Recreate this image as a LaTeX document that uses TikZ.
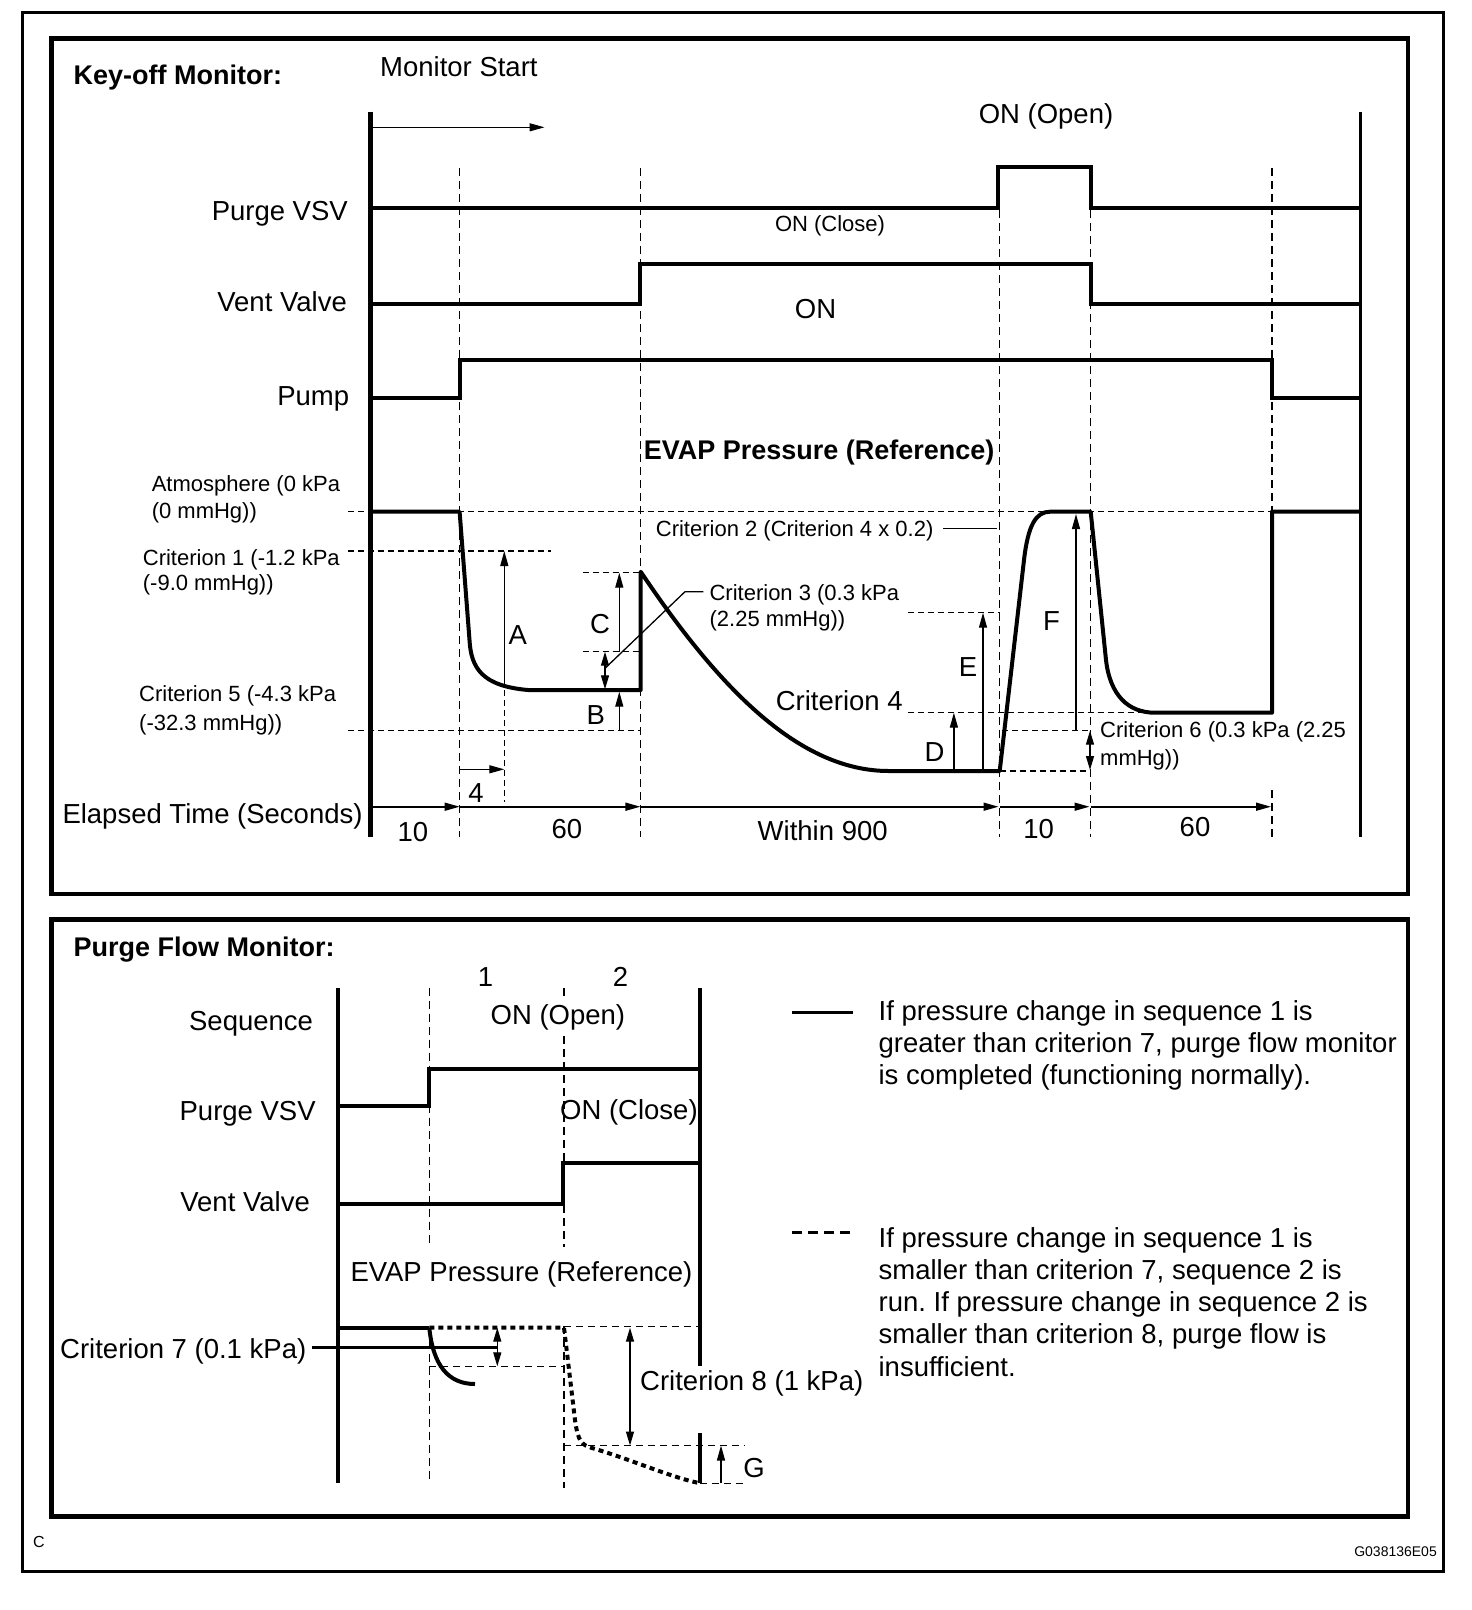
\documentclass[tikz,border=0pt]{standalone}
\usepackage{fontspec}
\setmainfont{Liberation Sans}
\usetikzlibrary{arrows.meta}
\frenchspacing
\begin{document}
\begin{tikzpicture}[x=1pt,y=-1pt,
  lbl/.style={inner sep=0pt, font=\fontsize{27.5}{33}\selectfont},
  sml/.style={inner sep=0pt, font=\fontsize{22}{26}\selectfont},
  bld/.style={inner sep=0pt, font=\fontsize{27}{32}\selectfont\bfseries},
  sig/.style={line width=4pt, line join=miter},
  axisl/.style={line width=4.5pt},
  boxframe/.style={line width=4.5pt},
  thinl/.style={line width=1.3pt},
  dsh/.style={line width=1.5pt, dash pattern=on 6pt off 4pt},
  vdsh/.style={line width=1.4pt, dash pattern=on 8pt off 5pt},
  dotl/.style={line width=4pt, dash pattern=on 5pt off 4pt},
  arr/.style={-{Triangle[length=15pt,width=8pt]}},
  darr/.style={{Triangle[length=14pt,width=8pt]}-{Triangle[length=14pt,width=8pt]}},
]
\useasboundingbox (0,0) rectangle (1472,1610);
% frames
\draw[line width=2.5pt] (22.5,12.3) rectangle (1443.5,1571.5);
\draw[boxframe] (51.3,38.3) rectangle (1407.9,894);
\draw[boxframe] (51.3,919.5) rectangle (1407.9,1516.5);

%================ TOP PANEL =================
% dashed verticals
\draw[vdsh] (459.6,168.3) -- (459.6,837);
\draw[vdsh] (640.4,168.3) -- (640.4,837);
\draw[vdsh] (999.7,210) -- (999.7,837);
\draw[vdsh] (1090.7,210) -- (1090.7,837);
\draw[vdsh] (1272,168.3) -- (1272,712);
\draw[vdsh] (1272,790) -- (1272,837);
% dashed horizontals
\draw[dsh] (348,511.7) -- (1272,511.7);
\draw[dsh] (348,551) -- (551,551);
\draw[dsh] (348,730.7) -- (640.4,730.7);
\draw[dsh] (582.7,572.7) -- (640.4,572.7);
\draw[dsh] (582.7,651.7) -- (640.4,651.7);
\draw[dsh] (504.3,690) -- (504.3,801.7);
\draw[dsh] (907.6,612.7) -- (999.7,612.7);
\draw[dsh] (907.6,712.7) -- (1152,712.7);
\draw[dsh] (999.7,771) -- (1090.7,771);
\draw[dsh] (1002,730.7) -- (1090.7,730.7);

% axes
\draw[axisl] (370.4,111.7) -- (370.4,837);
\draw[line width=3.5pt] (1360.7,111.7) -- (1360.7,837);

% monitor start arrow
\draw[thinl,arr] (372.6,127.3) -- (544.5,127.3);

% signals
\draw[sig] (370.4,208.3) -- (998.3,208.3) -- (998.3,167.3) -- (1090.8,167.3) -- (1090.8,208.3) -- (1360.7,208.3);
\draw[sig] (370.4,304) -- (640.4,304) -- (640.4,264.3) -- (1090.8,264.3) -- (1090.8,304) -- (1360.7,304);
\draw[sig] (370.4,397.7) -- (459.6,397.7) -- (459.6,360) -- (1272,360) -- (1272,398) -- (1360.7,398);

% EVAP pressure curve
\draw[sig, line join=round] (370.4,511.7) -- (459.6,511.7) -- (469.5,640)
  .. controls (471,668) and (482,686) .. (528,690) -- (640.7,690) -- (640.7,571.7)
  .. controls (720,690) and (800,771) .. (888.8,771) -- (999.7,771) -- (1024,560)
  .. controls (1028,525) and (1036,511.7) .. (1050,511.7) -- (1090.7,511.7) -- (1106,660)
  .. controls (1110,695) and (1128,712.7) .. (1155,712.7) -- (1272,712.7) -- (1272,511.7) -- (1360.7,511.7);

% measurement arrows
\draw[thinl,arr] (504.3,685) -- (504.3,551);
\draw[thinl,arr] (459.6,769.3) -- (504.3,769.3);
\draw[thinl,arr] (619.3,651.7) -- (619.3,572.7);
\draw[thinl,darr] (605,651.7) -- (605,689.3);
\draw[thinl,arr] (619.3,730.7) -- (619.3,691.7);
\draw[thinl,arr] (983,771) -- (983,612.7);
\draw[thinl,arr] (953.9,771) -- (953.9,712.7);
\draw[thinl,arr] (1076,730.7) -- (1076,514);
\draw[thinl,darr] (1090,730.7) -- (1090,770);

% leaders
\coordinate (c3k) at (685,591.7);
\coordinate (c3e) at (605,668.3);
\draw[thinl] (703.3,591.7) -- (c3k) -- (c3e);
\coordinate (c2s) at (943,528.3);
\coordinate (c2e) at (997.3,528.3);
\draw[thinl] (c2s) -- (c2e);

% elapsed time axis
\draw[thinl,line width=1.6pt,arr] (370.4,806.7) -- (459.6,806.7);
\draw[thinl,line width=1.6pt,arr] (459.6,806.7) -- (640.4,806.7);
\draw[thinl,line width=1.6pt,arr] (640.4,806.7) -- (998.5,806.7);
\draw[thinl,line width=1.6pt,arr] (999.7,806.7) -- (1089.5,806.7);
\draw[thinl,line width=1.6pt,arr] (1090.7,806.7) -- (1271,806.7);

% top texts
\node[bld, anchor=base west] (t1) at (73.5,84) {Key-off Monitor:};
\node[lbl, anchor=base west] (ms) at (380,76.5) {Monitor Start};
\node[lbl, anchor=base] (onopen) at (1046,123.5) {ON (Open)};
\node[lbl, anchor=base east] (pv) at (348,220.5) {Purge VSV};
\node[sml, anchor=base] (onclose) at (830,231.7) {ON (Close)};
\node[lbl, anchor=base east] (vv) at (347,311.7) {Vent Valve};
\node[lbl, anchor=base] (on) at (815.6,318) {ON};
\node[lbl, anchor=base east] (pump) at (349.4,405.5) {Pump};
\node[bld, anchor=base west] (evap) at (643.6,459) {EVAP Pressure (Reference)};
\node[sml, anchor=base west] (atm1) at (151.6,491.5) {Atmosphere (0 kPa};
\node[sml, anchor=base west] (atm2) at (151.6,518) {(0 mmHg))};
\node[sml, anchor=base west] (c1a) at (142.7,565) {Criterion 1 (-1.2 kPa};
\node[sml, anchor=base west] (c1b) at (142.7,590) {(-9.0 mmHg))};
\node[sml, anchor=base west] (c5a) at (139,701.7) {Criterion 5 (-4.3 kPa};
\node[sml, anchor=base west] (c5b) at (139,730) {(-32.3 mmHg))};
\node[sml, anchor=base east] (c2) at (933.6,536.7) {Criterion 2 (Criterion 4 x 0.2)};
\node[sml, anchor=base west] (c3a) at (709.4,600) {Criterion 3 (0.3 kPa};
\node[sml, anchor=base west] (c3b) at (709.4,626.7) {(2.25 mmHg))};
\node[lbl, anchor=base] (c4) at (839.3,710) {Criterion 4};
\node[sml, anchor=base west] (c6a) at (1100,737.7) {Criterion 6 (0.3 kPa (2.25};
\node[sml, anchor=base west] (c6b) at (1100,765) {mmHg))};
\node[lbl] (lA) at (517.7,635) {A};
\node[lbl] (lB) at (595.8,715) {B};
\node[lbl] (lC) at (600,624.5) {C};
\node[lbl] (lD) at (934.5,752.5) {D};
\node[lbl] (lE) at (968,667.5) {E};
\node[lbl] (lF) at (1051.6,621) {F};
\node[lbl] (l4) at (476,793.5) {4};
\node[lbl, anchor=base west] (et) at (62.3,823.3) {Elapsed Time (Seconds)};
\node[lbl, anchor=base] (n10a) at (412.8,841.5) {10};
\node[lbl, anchor=base] (n60a) at (566.8,838.3) {60};
\node[lbl, anchor=base] (w900) at (822.7,840) {Within 900};
\node[lbl, anchor=base] (n10b) at (1038.6,838) {10};
\node[lbl, anchor=base] (n60b) at (1195,836.7) {60};

%================ BOTTOM PANEL =================
\draw[vdsh] (429.3,987.6) -- (429.3,1247);
\draw[vdsh] (429.3,1327.7) -- (429.3,1480);
\draw[vdsh] (564,987.6) -- (564,997);
\draw[vdsh] (564,1036) -- (564,1247);
\draw[vdsh] (564,1326) -- (564,1488);
\draw[thinl, dash pattern=on 7pt off 5pt] (564,1326.7) -- (699.8,1326.7);
\draw[thinl, dash pattern=on 7pt off 5pt] (429.3,1366.3) -- (564,1366.3);
\draw[thinl, dash pattern=on 7pt off 5pt] (564,1445.5) -- (745,1445.5);
\draw[thinl, dash pattern=on 7pt off 5pt] (699.8,1483.3) -- (745,1483.3);

\draw[axisl] (338.2,987.6) -- (338.2,1483);
\draw[axisl] (699.8,987.6) -- (699.8,1366);
\draw[axisl] (699.8,1433) -- (699.8,1483);

\draw[sig] (338.2,1105.6) -- (429.3,1105.6) -- (429.3,1068.7) -- (699.8,1068.7);
\draw[sig] (338.2,1204) -- (563.2,1204) -- (563.2,1163) -- (699.8,1163);
\draw[sig] (338.2,1327.7) -- (429.3,1327.7);
\draw[sig] (429.3,1327.7) .. controls (433,1365) and (448,1384) .. (475,1384);
\draw[dotl] (429.3,1327.7) -- (564,1327.7) -- (575,1420)
  .. controls (578,1442) and (582,1445) .. (592,1448)
  .. controls (630,1459) and (670,1477) .. (699,1483);

\draw[line width=3pt] (312.3,1347.7) -- (496.7,1347.7);
\draw[thinl,darr] (497.3,1327.7) -- (497.3,1366.3);
\draw[thinl,darr] (630,1327.7) -- (630,1445.5);
\draw[thinl,arr] (721,1483.3) -- (721,1445.5);

% legend
\draw[line width=3pt] (792,1012.4) -- (853.4,1012.4);
\draw[line width=3pt, dash pattern=on 10pt off 6pt] (792,1232.5) -- (853.4,1232.5);

\node[bld, anchor=base west] (t2) at (73.5,956) {Purge Flow Monitor:};
\node[lbl, anchor=base] (s1) at (485.5,986) {1};
\node[lbl, anchor=base] (s2) at (620.4,986) {2};
\node[lbl, anchor=base east] (seq) at (313.2,1030) {Sequence};
\node[lbl, anchor=base] (onopen2) at (557.9,1024.7) {ON (Open)};
\node[lbl, anchor=base east] (pv2) at (315.9,1120.5) {Purge VSV};
\node[lbl, anchor=base west] (onclose2) at (560,1119.3) {ON (Close)};
\node[lbl, anchor=base east] (vv2) at (310,1211.7) {Vent Valve};
\node[lbl, anchor=base west] (evap2) at (350.3,1281) {EVAP Pressure (Reference)};
\node[lbl, anchor=base west] (c7) at (60,1358.3) {Criterion 7 (0.1 kPa)};
\node[lbl, anchor=base west] (c8) at (640,1390) {Criterion 8 (1 kPa)};
\node[lbl] (lG) at (754,1468) {G};

\node[lbl, anchor=base west] (la1) at (878.4,1020) {If pressure change in sequence 1 is};
\node[lbl, anchor=base west] (la2) at (878.4,1052.3) {greater than criterion 7, purge flow monitor};
\node[lbl, anchor=base west] (la3) at (878.4,1084.6) {is completed (functioning normally).};
\node[lbl, anchor=base west] (lb1) at (878.4,1247) {If pressure change in sequence 1 is};
\node[lbl, anchor=base west] (lb2) at (878.4,1279.3) {smaller than criterion 7, sequence 2 is};
\node[lbl, anchor=base west] (lb3) at (878.4,1311.6) {run. If pressure change in sequence 2 is};
\node[lbl, anchor=base west] (lb4) at (878.4,1343.9) {smaller than criterion 8, purge flow is};
\node[lbl, anchor=base west] (lb5) at (878.4,1376.2) {insufficient.};

% footer
\node[inner sep=0pt, font=\fontsize{16}{19}\selectfont] (fc) at (39,1541.7) {C};
\node[inner sep=0pt, font=\fontsize{14}{17}\selectfont, anchor=east] (fid) at (1437,1551.7) {G038136E05};
\end{tikzpicture}
\end{document}
